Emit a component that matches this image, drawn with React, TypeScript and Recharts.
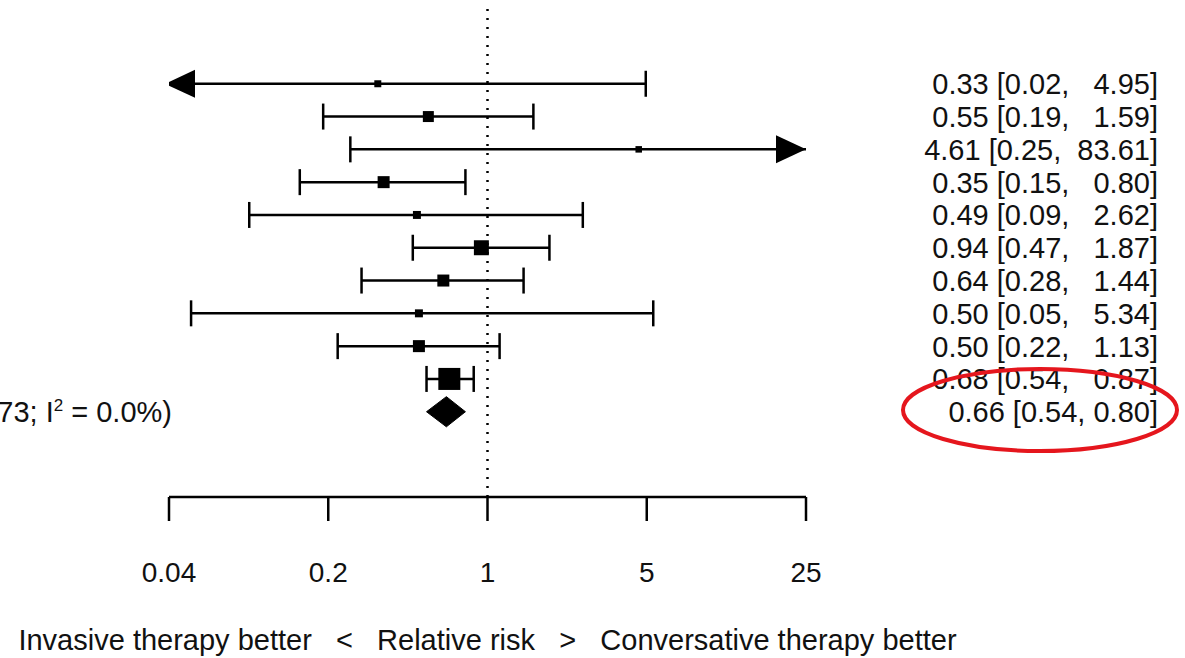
import { ScatterChart, Scatter, XAxis, YAxis, ReferenceLine } from 'recharts';

// study rows, top to bottom (relative risk with 95% CI)
const studyEst = [0.33, 0.55, 4.61, 0.35, 0.49, 0.94, 0.64, 0.5, 0.5, 0.68];
const studyLow = [0.02, 0.19, 0.25, 0.15, 0.09, 0.47, 0.28, 0.05, 0.22, 0.54];
const studyHigh = [4.95, 1.59, 83.61, 0.8, 2.62, 1.87, 1.44, 5.34, 1.13, 0.87];
const studyWeight = [2.3, 5.7, 2.0, 6.8, 3.0, 10.6, 6.8, 3.0, 6.8, 22.9];

const pooledEst = 0.66;
const pooledLow = 0.54;
const pooledHigh = 0.8;
const pooledNote = '73; I';

const xTicks = [0.04, 0.2, 1, 5, 25];
const axisTitle =
  'Invasive therapy better\u00A0\u00A0 <\u00A0\u00A0 Relative risk\u00A0\u00A0 >\u00A0\u00A0 Conversative therapy better';

const FONT = '"Liberation Sans", Arial, Helvetica, sans-serif';
const INK = '#111';
const xMin = xTicks[0];
const xMax = xTicks[xTicks.length - 1];
const pooledRow = studyEst.length + 1;
const yDomain = [-1.31, 13.6];

const fmt = (v: number) => v.toFixed(2);
const rowLabels = [
  ...studyEst.map(
    (e, i) => `${fmt(e)} [${fmt(studyLow[i])}, ${fmt(studyHigh[i]).padStart(6)}]`
  ),
  `${fmt(pooledEst)} [${fmt(pooledLow)}, ${fmt(pooledHigh)}]`,
];
const rowTicks = rowLabels.map((_, i) => i + 1);

// one series per CI line, end points clipped to the axis range
const ciSeries = studyEst.map((_, i) => [
  { x: Math.max(studyLow[i], xMin), y: i + 1, end: studyLow[i] < xMin ? 'left' : 'cap' },
  { x: Math.min(studyHigh[i], xMax), y: i + 1, end: studyHigh[i] > xMax ? 'right' : 'cap' },
]);

const boxes = studyEst.map((e, i) => ({ x: e, y: i + 1, w: studyWeight[i] }));

const dh = 0.46;
const diamond = [
  { x: pooledLow, y: pooledRow },
  { x: pooledEst, y: pooledRow - dh },
  { x: pooledHigh, y: pooledRow },
  { x: pooledEst, y: pooledRow + dh },
  { x: pooledLow, y: pooledRow },
];

const CiEnd = (props: any) => {
  const { cx, cy, payload } = props;
  if (payload.end === 'left') {
    return <polygon points={`${cx - 4},${cy} ${cx + 26},${cy - 14} ${cx + 26},${cy + 14}`} fill="#000" />;
  }
  if (payload.end === 'right') {
    return <polygon points={`${cx},${cy} ${cx - 30},${cy - 14} ${cx - 30},${cy + 14}`} fill="#000" />;
  }
  return <line x1={cx} x2={cx} y1={cy - 13} y2={cy + 13} stroke="#000" strokeWidth={2.5} />;
};

const Box = (props: any) => {
  const { cx, cy, payload } = props;
  const s = 4.6 * Math.sqrt(payload.w);
  return <rect x={cx - s / 2} y={cy - s / 2} width={s} height={s} fill="#000" />;
};

const RightTick = (props: any) => {
  const { x, y, payload } = props;
  return (
    <text
      x={x + 352}
      y={y}
      dy="0.36em"
      textAnchor="end"
      fontSize={29}
      fontFamily={FONT}
      fill={INK}
      style={{ whiteSpace: 'pre' }}
    >
      {rowLabels[payload.value - 1]}
    </text>
  );
};

const LeftTick = (props: any) => {
  const { x, y } = props;
  return (
    <text x={x + 3} y={y} dy="0.36em" textAnchor="end" fontSize={29} fontFamily={FONT} fill={INK}>
      {pooledNote}
      <tspan dy={-11} fontSize={17}>2</tspan>
      <tspan dy={11} fontSize={29}>{' = 0.0%)'}</tspan>
    </text>
  );
};

export default function App() {
  return (
    <div style={{ position: 'absolute', left: 0, top: 0, width: 1185, height: 658, background: '#fff' }}>
      <ScatterChart width={1185} height={658} margin={{ top: 8, right: 0, bottom: 0, left: 0 }}>
        <XAxis
          dataKey="x"
          type="number"
          scale="log"
          domain={[xMin, xMax]}
          ticks={xTicks}
          allowDataOverflow
          height={161}
          axisLine={{ stroke: '#000', strokeWidth: 2.5 }}
          tickLine={{ stroke: '#000', strokeWidth: 2.5 }}
          tickSize={24}
          tickMargin={41}
          tick={{ fill: INK, fontSize: 28, fontFamily: FONT }}
          label={{
            value: axisTitle,
            position: 'insideBottom',
            offset: 8,
            fill: INK,
            fontSize: 29,
            fontFamily: FONT,
          }}
        />
        <YAxis
          yAxisId="left"
          dataKey="y"
          type="number"
          domain={yDomain}
          reversed
          width={169}
          ticks={[pooledRow]}
          axisLine={false}
          tickLine={false}
          tickSize={0}
          tickMargin={0}
          tick={<LeftTick />}
        />
        <YAxis
          yAxisId="right"
          orientation="right"
          dataKey="y"
          type="number"
          domain={yDomain}
          reversed
          width={379}
          ticks={rowTicks}
          interval={0}
          axisLine={false}
          tickLine={false}
          tickSize={0}
          tickMargin={0}
          tick={<RightTick />}
        />
        <ReferenceLine
          yAxisId="left"
          x={1}
          stroke="#000"
          strokeWidth={2.5}
          strokeDasharray="2 7"
        />
        {ciSeries.map((pts, i) => (
          <Scatter
            key={`ci-${i}`}
            yAxisId="left"
            data={pts}
            line={{ stroke: '#000', strokeWidth: 2.5 }}
            shape={<CiEnd />}
            isAnimationActive={false}
          />
        ))}
        <Scatter yAxisId="right" data={boxes} shape={<Box />} isAnimationActive={false} />
        <Scatter
          yAxisId="left"
          data={diamond}
          line={{ stroke: '#000', strokeWidth: 1, fill: '#000' }}
          shape={() => <g />}
          isAnimationActive={false}
        />
      </ScatterChart>
      <svg
        width={1185}
        height={658}
        style={{ position: 'absolute', left: 0, top: 0, pointerEvents: 'none' }}
      >
        <ellipse cx={1040} cy={410} rx={137} ry={41} fill="none" stroke="#e5161d" strokeWidth={4} />
      </svg>
    </div>
  );
}
